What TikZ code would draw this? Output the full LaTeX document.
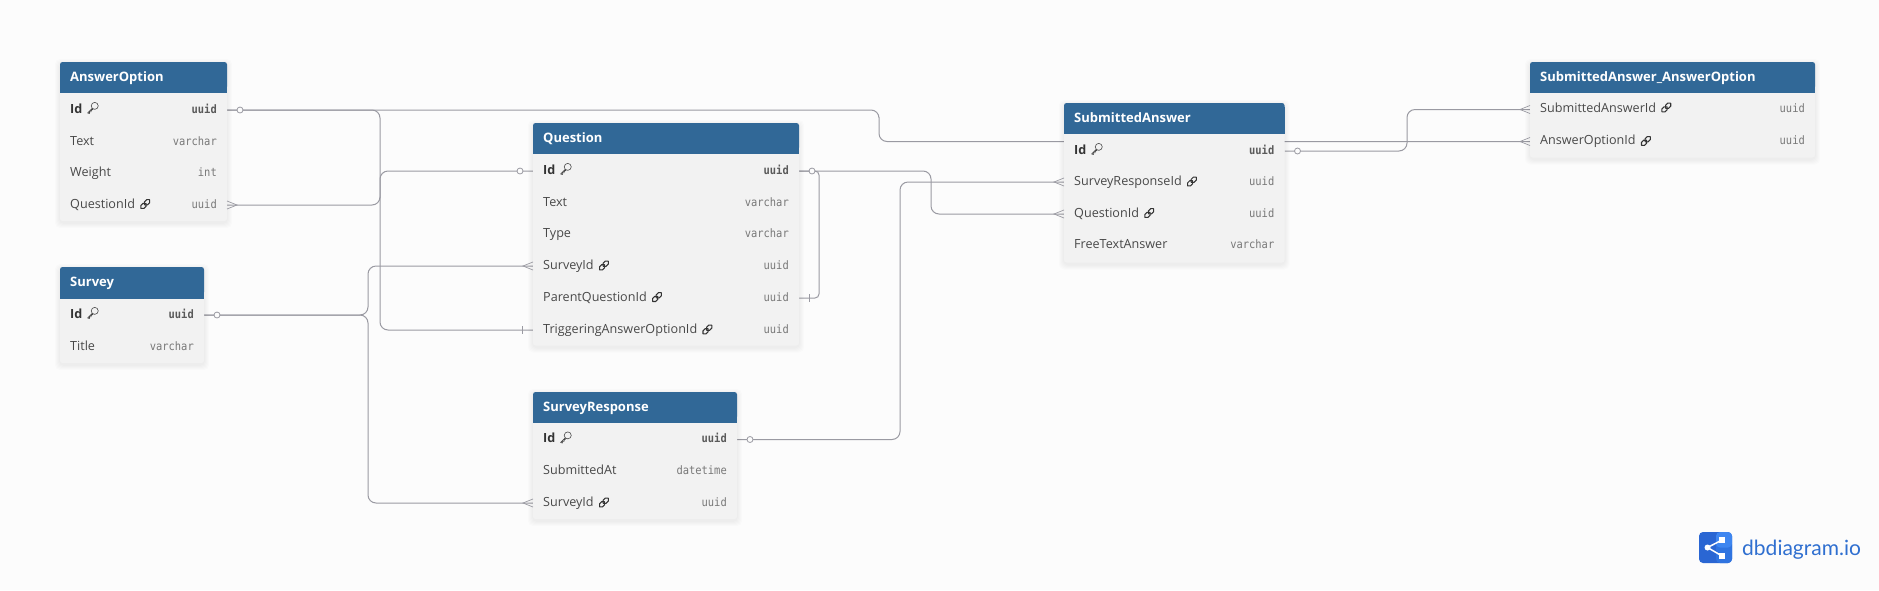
\documentclass[tikz,border=0pt]{standalone}
\usepackage{fontspec}
\setmainfont{Open Sans}
\newfontfamily\typefont{DejaVu Sans Mono}[FakeStretch=0.9]
\newfontfamily\logofont{Lato}
\usetikzlibrary{calc}
\definecolor{pagebg}{HTML}{FCFCFC}
\definecolor{hdrblue}{HTML}{316897}
\definecolor{rowbg}{HTML}{F2F2F2}
\definecolor{relline}{HTML}{9A9AA2}
\definecolor{fieldcol}{HTML}{484848}
\definecolor{pkcol}{HTML}{333333}
\definecolor{typecol}{HTML}{787878}
\definecolor{pktype}{HTML}{5A5A5A}
\definecolor{logoblue}{HTML}{2F6FD0}
\definecolor{logoleft}{HTML}{2A66D3}
\definecolor{logotr}{HTML}{3E86F0}
\definecolor{logobr}{HTML}{2F74E0}
\pgfdeclarelayer{under}
\pgfsetlayers{under,main}
\tikzset{
  x=1pt,y=-1pt,
  tablebody/.style={fill=rowbg,rounded corners=2.5pt,inner sep=0pt,outer sep=0pt,anchor=north west},
  rowbox/.style={inner sep=0pt,outer sep=0pt,minimum height=31.5pt,anchor=west},
  titletxt/.style={font=\bfseries\fontsize{13}{15}\selectfont,text=white,inner sep=0pt,anchor=base west},
  fieldtxt/.style={font=\fontsize{12.6}{15}\selectfont,text=fieldcol,inner sep=0pt,anchor=base west},
  pkfield/.style={font=\bfseries\fontsize{12.6}{15}\selectfont,text=pkcol,inner sep=0pt,anchor=base west},
  typetxt/.style={font=\typefont\fontsize{11.6}{13}\selectfont,text=typecol,inner sep=0pt,anchor=base east},
  pktypetxt/.style={font=\typefont\bfseries\fontsize{11.6}{13}\selectfont,text=pktype,inner sep=0pt,anchor=base east},
  rel/.style={draw=relline,line width=1pt,rounded corners=8pt},
  selfrel/.style={rel,rounded corners=4pt},
  relmark/.style={draw=relline,line width=0.7pt},
  zeroring/.style={circle,draw=relline,fill=pagebg,line width=0.8pt,minimum size=6pt,inner sep=0pt},
  keyicon/.pic={
    \draw[draw=fieldcol,line width=0.6pt] (2.2,-2.2) circle[radius=3.5];
    \draw[draw=fieldcol,line width=0.6pt,line join=round] (-0.3,0.3) -- (-5,5) -- (-3,5.4) -- (-3,3.8) -- (-1.4,3.8) -- (-1.4,2.6) -- (0.6,1);
  },
  linkicon/.pic={
    \draw[draw=pkcol,line width=1.05pt,rounded corners=1.9pt,rotate=45] (-6,-2.1) rectangle (0.9,2.1);
    \draw[draw=pkcol,line width=1.05pt,rounded corners=1.9pt,rotate=45] (-0.9,-2.1) rectangle (6,2.1);
  },
}
% name, x0, x1, top, header bottom, body bottom, title
\newcommand{\dbtable}[7]{%
  \pgfmathsetmacro\tw{#3-#2}\pgfmathsetmacro\th{#6-#4}%
  \foreach \g in {1,2,3,4,5}{\fill[black,opacity=0.012,rounded corners=5pt] (#2-\g,#4-\g+2) rectangle (#3+\g,#6+\g+2);}%
  \node[tablebody,minimum width=\tw pt,minimum height=\th pt] (#1) at (#2,#4) {};
  \fill[hdrblue,rounded corners=2.5pt] (#2,#4) rectangle (#3,#5-4);
  \fill[hdrblue] (#2,#4+4) rectangle (#3,#5);
  \node[titletxt] (#1-title) at (#2+10,#4+19) {#7};
}
% name, x0, x1, y, label style, label, type style, type
\newcommand{\dbrow}[8]{%
  \pgfmathsetmacro\rw{#3-#2}%
  \node[rowbox,minimum width=\rw pt] (#1) at (#2,#4) {};
  \node[#5] (#1-l) at (#2+10,#4+3.3) {#6};
  \node[#7] (#1-t) at (#3-10,#4+3.3) {#8};
}
\newcommand{\pkrow}[6]{\dbrow{#1}{#2}{#3}{#4}{pkfield}{#5}{pktypetxt}{#6}\pic at ([xshift=10pt,yshift=0.5pt]#1-l.east) {keyicon};}
\newcommand{\fkrow}[6]{\dbrow{#1}{#2}{#3}{#4}{fieldtxt}{#5}{typetxt}{#6}\pic at ([xshift=10pt,yshift=0.5pt]#1-l.east) {linkicon};}
\newcommand{\plainrow}[6]{\dbrow{#1}{#2}{#3}{#4}{fieldtxt}{#5}{typetxt}{#6}}
% markers on the line ends
\newcommand{\ringE}[1]{\node[zeroring] (#1-ring) at ([xshift=13pt]#1.east) {};}
\newcommand{\ringW}[1]{\node[zeroring] (#1-ring) at ([xshift=-13pt]#1.west) {};}
\newcommand{\crowW}[1]{\draw[relmark] ([yshift=4pt]#1.west) -- ([xshift=-10pt]#1.west) -- ([yshift=-4pt]#1.west);}
\newcommand{\crowE}[1]{\draw[relmark] ([yshift=4pt]#1.east) -- ([xshift=10pt]#1.east) -- ([yshift=-4pt]#1.east);}
\newcommand{\tickW}[1]{\draw[relmark] ([xshift=-11pt,yshift=4pt]#1.west) -- ([xshift=-11pt,yshift=-4pt]#1.west);}
\newcommand{\tickE}[1]{\draw[relmark] ([xshift=10pt,yshift=4pt]#1.east) -- ([xshift=10pt,yshift=-4pt]#1.east);}
\begin{document}
\begin{tikzpicture}
\useasboundingbox (0,0) rectangle (1879,590);
\begin{pgfonlayer}{under}
  \fill[pagebg] (0,0) rectangle (1879,590);
\end{pgfonlayer}

% AnswerOption
\dbtable{ao}{60}{227}{62}{93}{221}{AnswerOption}
\pkrow{aoid}{60}{227}{110}{Id}{uuid}
\plainrow{aotext}{60}{227}{142}{Text}{varchar}
\plainrow{aoweight}{60}{227}{173.5}{Weight}{int}
\fkrow{aoqid}{60}{227}{205}{QuestionId}{uuid}

% Survey
\dbtable{sv}{60}{204}{267}{298.5}{363}{Survey}
\pkrow{svid}{60}{204}{315}{Id}{uuid}
\plainrow{svtitle}{60}{204}{347}{Title}{varchar}

% Question
\dbtable{qu}{533}{799}{123}{154}{345.5}{Question}
\pkrow{quid}{533}{799}{171}{Id}{uuid}
\plainrow{qutext}{533}{799}{202.8}{Text}{varchar}
\plainrow{qutype}{533}{799}{234.6}{Type}{varchar}
\fkrow{qusv}{533}{799}{266}{SurveyId}{uuid}
\fkrow{qupar}{533}{799}{298}{ParentQuestionId}{uuid}
\fkrow{qutrig}{533}{799}{330}{TriggeringAnswerOptionId}{uuid}

% SurveyResponse
\dbtable{sr}{533}{737}{392}{423}{519}{SurveyResponse}
\pkrow{srid}{533}{737}{439.5}{Id}{uuid}
\plainrow{srat}{533}{737}{471.5}{SubmittedAt}{datetime}
\fkrow{srsv}{533}{737}{503}{SurveyId}{uuid}

% SubmittedAnswer
\dbtable{sa}{1064}{1284.5}{103}{134}{262.5}{SubmittedAnswer}
\pkrow{said}{1064}{1284.5}{151}{Id}{uuid}
\fkrow{sasr}{1064}{1284.5}{182}{SurveyResponseId}{uuid}
\fkrow{saq}{1064}{1284.5}{214}{QuestionId}{uuid}
\plainrow{safree}{1064}{1284.5}{245.5}{FreeTextAnswer}{varchar}

% SubmittedAnswer_AnswerOption
\dbtable{sx}{1530}{1815}{62}{93}{157.5}{SubmittedAnswer\_AnswerOption}
\fkrow{sxsa}{1530}{1815}{109.5}{SubmittedAnswerId}{uuid}
\fkrow{sxao}{1530}{1815}{141.5}{AnswerOptionId}{uuid}

% routing channels
\coordinate (ch-ao-sx) at (879,125);
\coordinate (ch-ao-qu) at (380,220);
\coordinate (ch-qu-ao) at (380,190);
\coordinate (ch-sv-up) at (368,290);
\coordinate (ch-sv-dn) at (368,400);
\coordinate (ch-self) at (819,230);
\coordinate (ch-qu-sa) at (931,190);
\coordinate (ch-sr) at (900,300);
\coordinate (ch-sa-sx) at (1407,130);

\begin{pgfonlayer}{under}
  \draw[rel] (aoid.east) -| (ch-ao-sx) |- (sxao.west);
  \draw[rel] (aoid.east) -| (ch-ao-qu) |- (qutrig.west);
  \draw[rel] (aoqid.east) -| (ch-qu-ao) |- (quid.west);
  \draw[rel] (svid.east) -| (ch-sv-up) |- (qusv.west);
  \draw[rel] (svid.east) -| (ch-sv-dn) |- (srsv.west);
  \draw[selfrel] (quid.east) -| (ch-self) |- (qupar.east);
  \draw[rel] (quid.east) -| (ch-qu-sa) |- (saq.west);
  \draw[rel] (srid.east) -| (ch-sr) |- (sasr.west);
  \draw[rel] (said.east) -| (ch-sa-sx) |- (sxsa.west);
\end{pgfonlayer}

\ringE{aoid}\ringE{svid}\ringE{quid}\ringE{srid}\ringE{said}\ringW{quid}
\crowE{aoqid}\crowW{qusv}\crowW{srsv}\crowW{sasr}\crowW{saq}\crowW{sxsa}\crowW{sxao}
\tickW{qutrig}\tickE{qupar}

% logo
\node[inner sep=0pt,anchor=base west,text=logoblue,font=\logofont\fontsize{21}{24}\selectfont] (logo) at (1742,555) {dbdiagram.io};
\fill[logoleft,rounded corners=4pt] (1699,532) rectangle (1732,563);
\fill[logobr,rounded corners=4pt] (1716,540) rectangle (1732,563);
\fill[logotr,rounded corners=4pt] (1716,532) rectangle (1732,547.5);
\fill[logobr] (1716,547.5) rectangle (1728,552);
\coordinate (lg-a) at (1707.5,547.5);
\coordinate (lg-b) at (1722,540);
\coordinate (lg-c) at (1722,556);
\draw[white,line width=1.5pt] (lg-b) -- (lg-a) -- (lg-c);
\fill[white] (lg-a) circle[radius=3];
\fill[white] ($(lg-b)+(-2.6,-2.6)$) rectangle ($(lg-b)+(2.6,2.6)$);
\fill[white] ($(lg-c)+(-2.6,-2.6)$) rectangle ($(lg-c)+(2.6,2.6)$);
\end{tikzpicture}
\end{document}
